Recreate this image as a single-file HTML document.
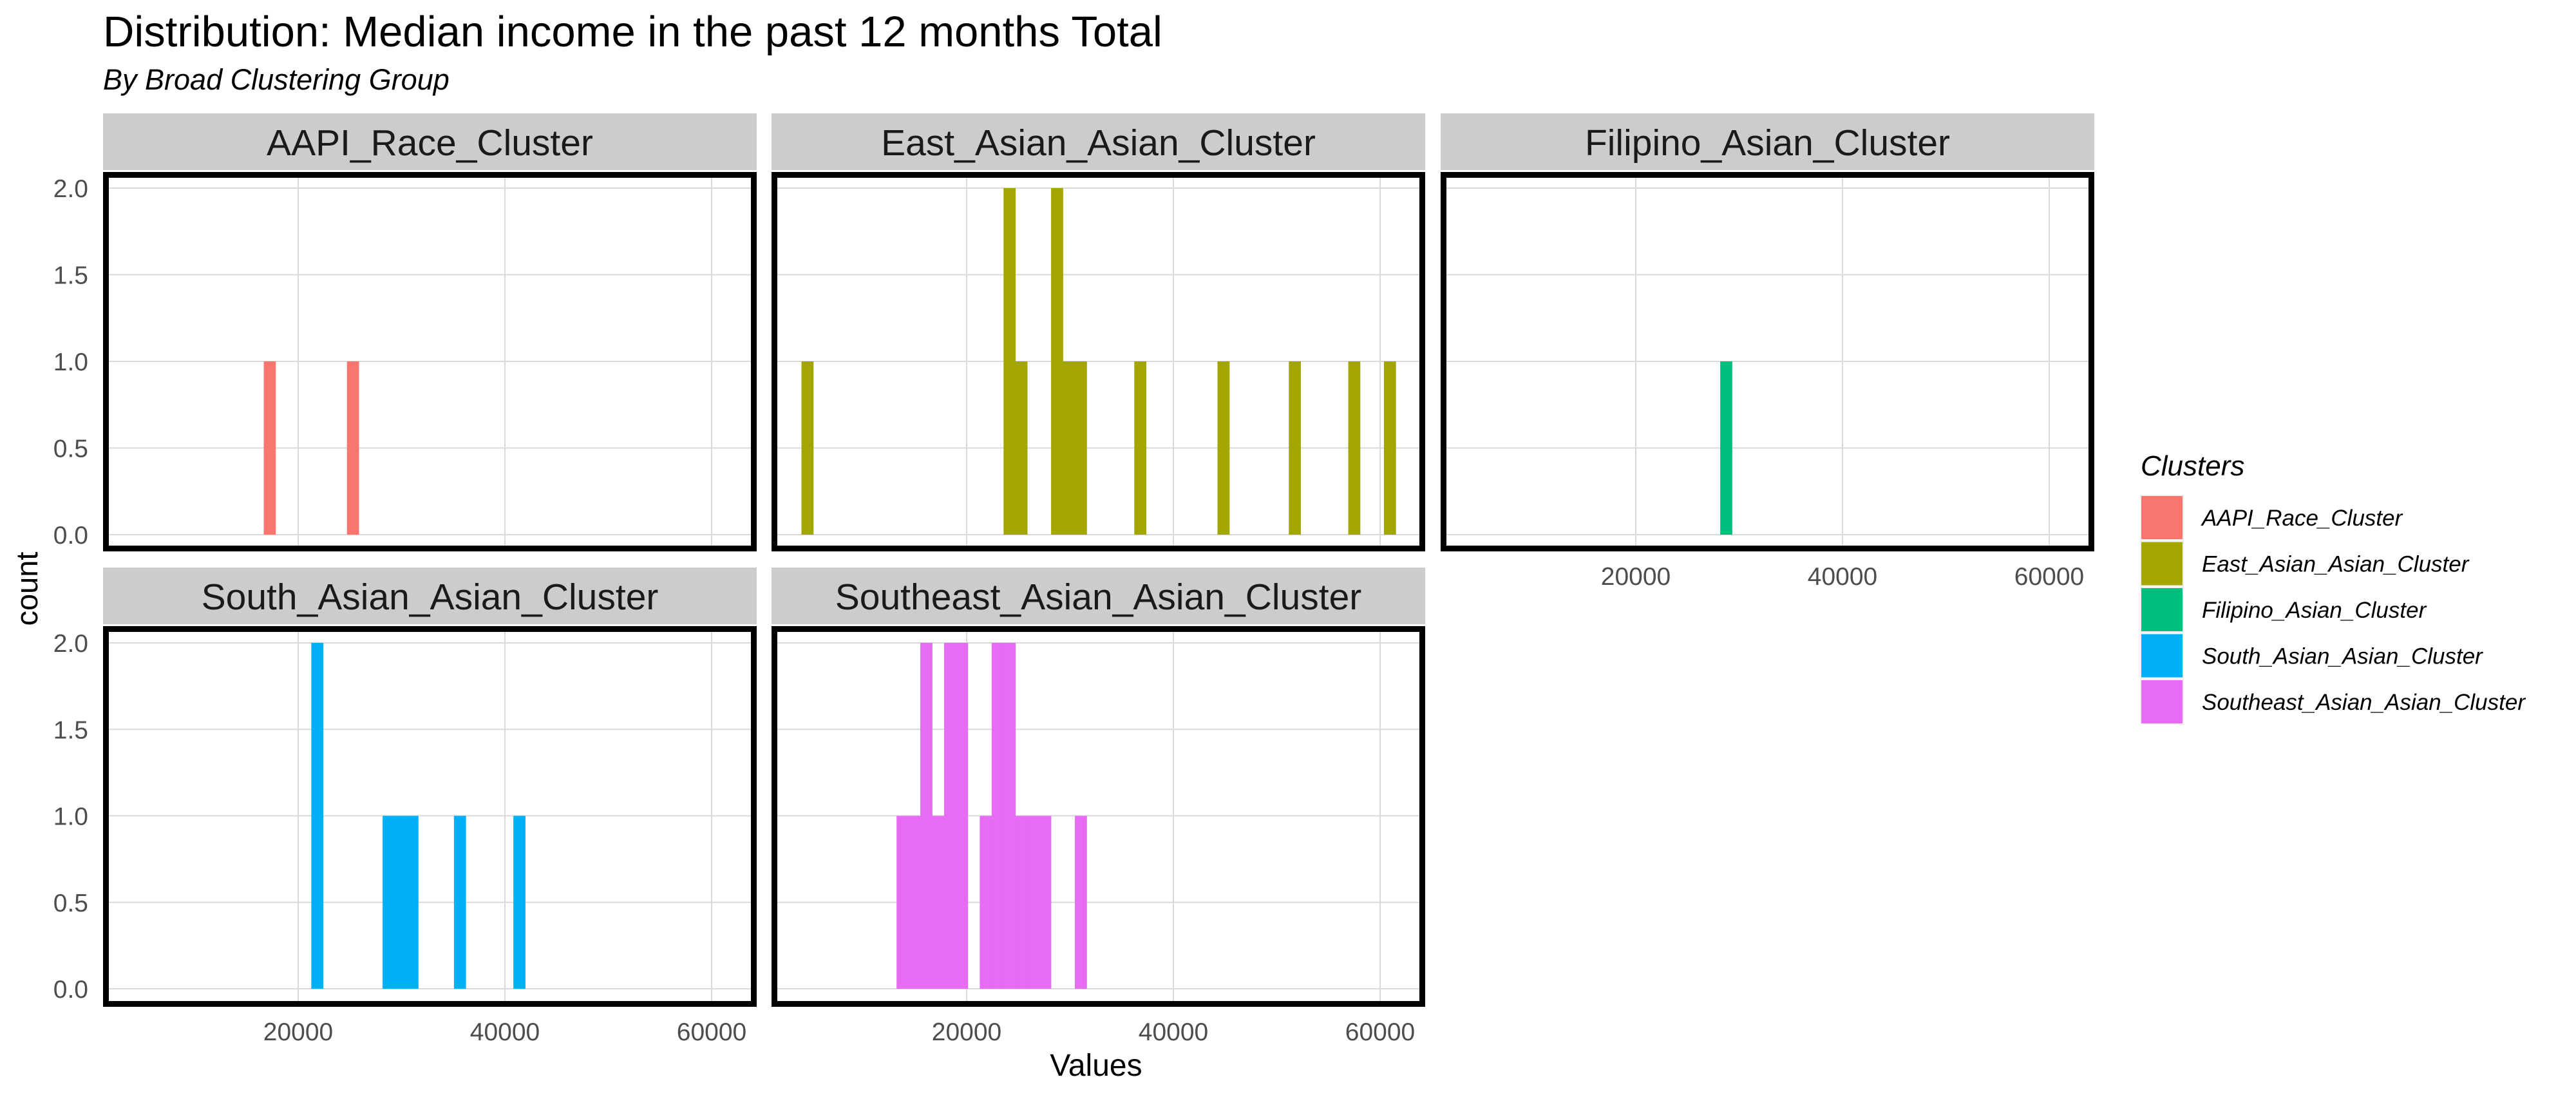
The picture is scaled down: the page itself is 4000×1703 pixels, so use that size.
<!DOCTYPE html>
<html><head><meta charset="utf-8"><style>
html,body{margin:0;padding:0;background:#fff;}
svg{display:block;font-family:"Liberation Sans",Arial,sans-serif;}
</style></head><body>
<svg id="chart" width="4000" height="1703" viewBox="0 0 4000 1703" xmlns="http://www.w3.org/2000/svg">
<rect width="4000" height="1703" fill="#fff"/>
<text x="160" y="72" font-size="67" fill="#000">Distribution: Median income in the past 12 months Total</text>
<text x="160" y="139" font-size="45" font-style="italic" fill="#000">By Broad Clustering Group</text>
<text transform="translate(58,914) rotate(-90)" text-anchor="middle" font-size="47" fill="#000">count</text>
<text x="1702" y="1670" text-anchor="middle" font-size="48" fill="#000">Values</text>
<g id="panels"></g>
<g id="legend"></g>
</svg>
<script>
const NS = "http://www.w3.org/2000/svg";
// data
const panelNames = ["AAPI_Race_Cluster","East_Asian_Asian_Cluster","Filipino_Asian_Cluster","South_Asian_Asian_Cluster","Southeast_Asian_Asian_Cluster"];
const panelColors = ["#F8766D","#A3A500","#00BF7D","#00B0F6","#E76BF3"];
const binStart = 4020;
const binWidth = 1150;
// bin indices and counts per panel
const aapiBins = [11,18];
const aapiCounts = [1,1];
const eastBins = [0,17,18,21,22,23,28,35,41,46,49];
const eastCounts = [1,2,1,2,1,1,1,1,1,1,1];
const filipinoBins = [21];
const filipinoCounts = [1];
const southBins = [15,21,22,23,27,32];
const southCounts = [2,1,1,1,1,1];
const seBins = [8,9,10,11,12,13,15,16,17,18,19,20,23];
const seCounts = [1,1,2,1,2,2,1,2,2,1,1,1,1];
const xTicks = [20000,40000,60000];
const xTickLabels = ["20000","40000","60000"];
const yTicks = [0,0.5,1,1.5,2];
const yTickLabels = ["0.0","0.5","1.0","1.5","2.0"];

const panelBins = [aapiBins,eastBins,filipinoBins,southBins,seBins];
const panelCounts = [aapiCounts,eastCounts,filipinoCounts,southCounts,seCounts];

// layout
const colX = [160,1198,2237];
const panelW = 1015;
const rows = [{strip:176,top:267,bot:856,y0:830,y2:292},{strip:881,top:972,bot:1563,y0:1535,y2:998}];
function xScale(col,v){ return colX[col] + 303 + (v-20000)*321/20000; }
function yScale(row,c){ const r=rows[row]; return r.y0 + (r.y2-r.y0)*c/2; }

const g = document.getElementById('panels');
function mk(tag, attrs, parent){ const e=document.createElementNS(NS,tag); for(const k in attrs) e.setAttribute(k,attrs[k]); (parent||g).appendChild(e); return e; }

panelNames.forEach((name,i)=>{
  const row = i<3?0:1, col = i<3?i:i-3;
  const r = rows[row], L = colX[col];
  const pg = mk('g',{});
  
  
  const strip = mk('rect',{x:L,y:r.strip,width:panelW,height:r.top-r.strip-3,fill:'#cccccc'},pg);
  
  
  const st = mk('text',{x:L+panelW/2,y:r.strip+65,'text-anchor':'middle','font-size':57,fill:'#1a1a1a'},pg);
  st.textContent = name;
  
  
  yTicks.forEach(t=>{
    const y=yScale(row,t);
    const gl = mk('line',{x1:L+9,x2:L+panelW-9,y1:y,y2:y,stroke:'#d9d9d9','stroke-width':2},pg);
    
    
  });
  xTicks.forEach(t=>{
    const x=xScale(col,t);
    const gl = mk('line',{x1:x,x2:x,y1:r.top+9,y2:r.bot-9,stroke:'#d9d9d9','stroke-width':2},pg);
    
    
  });
  panelBins[i].forEach((b,k)=>{
    const x1 = xScale(col, binStart + b*binWidth), x2 = xScale(col, binStart + (b+1)*binWidth);
    const y = yScale(row, panelCounts[i][k]), y0 = yScale(row,0);
    const bar = mk('rect',{x:x1,y:y,width:x2-x1+0.3,height:y0-y,fill:panelColors[i]},pg);
    
    
  });
  const bd = mk('rect',{x:L+4.5,y:r.top+4.5,width:panelW-9,height:r.bot-r.top-9,fill:'none',stroke:'#000','stroke-width':9},pg);
  
  
  if(col===0){
    yTicks.forEach((t,k)=>{
      const tl = mk('text',{x:137,y:yScale(row,t)+14,'text-anchor':'end','font-size':39,fill:'#4d4d4d'},pg);
      tl.textContent = yTickLabels[k];
      
      
    });
  }
  if(row===1 || col===2){
    xTicks.forEach((t,k)=>{
      const tl = mk('text',{x:xScale(col,t),y:r.bot+52,'text-anchor':'middle','font-size':39,fill:'#4d4d4d'},pg);
      tl.textContent = xTickLabels[k];
      
      
    });
  }
});

// legend
const lg = document.getElementById('legend');
const lt = mk('text',{x:3324,y:738,'font-size':44,'font-style':'italic',fill:'#000'},lg);
lt.textContent = 'Clusters';


panelNames.forEach((name,i)=>{
  const y = 768 + i*71.5;
  const key = mk('rect',{x:3324,y:y+1,width:66,height:69,fill:panelColors[i],stroke:'#f2f2f2','stroke-width':2},lg);
  
  
  const t = mk('text',{x:3419,y:y+48,'font-size':35,'font-style':'italic',fill:'#000'},lg);
  t.textContent = name;
  
  
});
</script>
</body></html>
